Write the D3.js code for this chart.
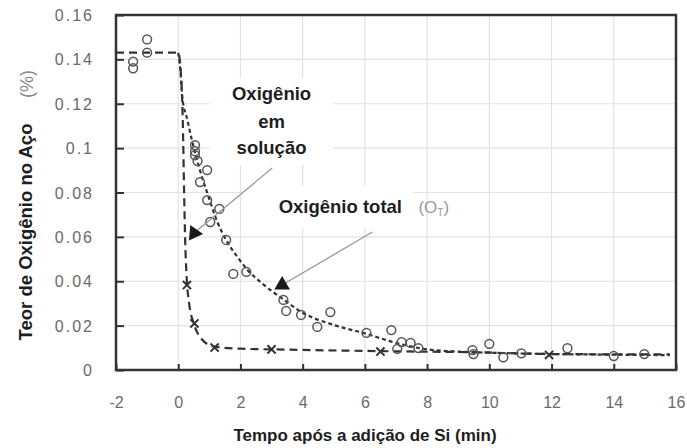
<!DOCTYPE html>
<html><head><meta charset="utf-8">
<script src="https://cdn.jsdelivr.net/npm/d3@7"></script>
<style>body{margin:0;background:#fff}svg{display:block}</style>
</head><body>
<script>
// ---------- data ----------
const xTicks = [-2, 0, 2, 4, 6, 8, 10, 12, 14, 16];
const yTicks = [0, 0.02, 0.04, 0.06, 0.08, 0.1, 0.12, 0.14, 0.16];
const yTickLabels = ["0", "0.02", "0.04", "0.06", "0.08", "0.1", "0.12", "0.14", "0.16"];

// open circles: dissolved oxygen measurements [min, %]
const circleX = [-1.45, -1.45, -1.0, -1.0, 0.54, 0.54, 0.54, 0.62, 0.93, 0.7, 0.93, 1.32, 1.03, 1.54,
  1.77, 2.19, 3.38, 3.47, 3.95, 4.47, 4.89, 6.05, 6.85, 7.18, 7.04, 7.47, 7.72, 9.46, 9.49, 10.0,
  10.45, 11.03, 12.51, 14.0, 14.98];
const circleY = [0.139, 0.136, 0.149, 0.143, 0.1013, 0.0986, 0.0968, 0.0942, 0.0901, 0.0847, 0.0766, 0.0726, 0.0667, 0.0586,
  0.0433, 0.0442, 0.0316, 0.0266, 0.0248, 0.0194, 0.0261, 0.0167, 0.018, 0.0126, 0.0095, 0.0122, 0.0099, 0.009, 0.0072, 0.0118,
  0.0057, 0.0075, 0.0098, 0.0063, 0.0072];

// crosses: total oxygen measurements
const crossX = [0.28, 0.52, 1.17, 3.0, 6.5, 11.92];
const crossY = [0.0383, 0.021, 0.0101, 0.0093, 0.0083, 0.0068];

// filled triangles
const triX = [0.51, 3.34];
const triY = [0.0617, 0.0383];

// fitted curve: oxygen in solution (short dashes)
const solX = [0, 0.07, 0.13, 0.29, 0.45, 0.7, 1.0, 1.25, 1.54, 1.9, 2.2, 2.7, 3.4, 4, 5, 6, 7, 8, 9, 10, 12, 14, 15.8];
const solY = [0.143, 0.135, 0.123, 0.113, 0.103, 0.09, 0.077, 0.067, 0.0586, 0.051, 0.0455, 0.039, 0.0316, 0.0258, 0.0203, 0.0165, 0.0122, 0.0093, 0.0083, 0.0078, 0.0072, 0.0069, 0.0067];

// fitted curve: total oxygen (long dashes)
const totX = [-2, 0, 0.08, 0.15, 0.19, 0.22, 0.27, 0.35, 0.5, 0.75, 1.17, 2, 3, 6.5, 9.5, 12, 15.8];
const totY = [0.143, 0.143, 0.135, 0.11, 0.08, 0.06, 0.042, 0.03, 0.021, 0.014, 0.0105, 0.0096, 0.0093, 0.0085, 0.008, 0.0072, 0.007];

// annotations (data coordinates)
const solLabelLines = ["Oxigênio", "em", "solução"];
const solLabelX = 3.0, solLabelY = [0.1248, 0.1118, 0.1005];
const solLeaderFrom = [3.02, 0.091];
const totLabel = "Oxigênio total";
const totLabelX = 5.21, totLabelY = 0.0735;
const totLeaderFrom = [6.24, 0.0622];
const solBox = [1.03, 4.99, 0.1316, 0.0924];
const totBox = [2.09, 7.56, 0.0829, 0.064];

const xTitle = "Tempo após a adição de Si (min)";
const yTitle = "Teor de Oxigênio no Aço";
const yUnit = "(%)";

// ---------- drawing ----------
const W = 687, H = 448;
const L = 116, R = 676, T = 15, B = 370;
const svg = d3.select("body").append("svg").attr("width", W).attr("height", H);
svg.append("rect").attr("width", W).attr("height", H).attr("fill", "#fff");

const x = d3.scaleLinear().domain([-2, 16]).range([L, R]);
const y = d3.scaleLinear().domain([0, 0.16]).range([B, T]);

// grid
const g = svg.append("g");
g.selectAll(".vg").data(xTicks.slice(1, -1)).join("line")
  .attr("x1", d => x(d)).attr("x2", d => x(d)).attr("y1", T).attr("y2", B)
  .attr("stroke", "#e2e2e2").attr("stroke-width", 1.2);
g.selectAll(".hg").data(yTicks.slice(1, -1)).join("line")
  .attr("y1", d => y(d)).attr("y2", d => y(d)).attr("x1", L).attr("x2", R)
  .attr("stroke", "#e2e2e2").attr("stroke-width", 1.2);

// white label boxes
[solBox, totBox].forEach(b => {
  svg.append("rect").attr("x", x(b[0])).attr("y", y(b[2]))
    .attr("width", x(b[1]) - x(b[0])).attr("height", y(b[3]) - y(b[2])).attr("fill", "#fff");
});

// axes ticks (inside)
const xAxis = d3.axisBottom(x).tickValues(xTicks).tickSize(-6).tickFormat(d => d);
const yAxis = d3.axisLeft(y).tickValues(yTicks).tickSize(-8).tickFormat((d, i) => yTickLabels[i]);
const gx = svg.append("g").attr("transform", `translate(0,${B})`).call(xAxis);
const gy = svg.append("g").attr("transform", `translate(${L},0)`).call(yAxis);
[gx, gy].forEach(a => {
  a.select(".domain").remove();
  a.selectAll(".tick line").attr("stroke", "#333").attr("stroke-width", 2);
  a.selectAll(".tick text").attr("fill", "#6a6a6a").attr("font-family", "Liberation Sans, Arial, sans-serif")
    .attr("font-size", 16);
});
gx.selectAll(".tick text").attr("dy", 0).attr("y", 38);
gy.selectAll(".tick text").attr("x", -22).attr("dy", "0.35em").attr("letter-spacing", 2);

// curves
const line = d3.line().x(d => x(d[0])).y(d => y(d[1])).curve(d3.curveMonotoneX);
const totData = totX.map((v, i) => [v, totY[i]]);
const solData = solX.map((v, i) => [v, solY[i]]);
svg.append("path").attr("d", line(totData)).attr("fill", "none")
  .attr("stroke", "#333").attr("stroke-width", 2.2).attr("stroke-dasharray", "8,5");
svg.append("path").attr("d", line(solData)).attr("fill", "none")
  .attr("stroke", "#333").attr("stroke-width", 2.2).attr("stroke-dasharray", "4,3");

// circles
svg.selectAll(".c").data(circleX.map((v, i) => [v, circleY[i]])).join("circle")
  .attr("cx", d => x(d[0])).attr("cy", d => y(d[1])).attr("r", 4.4)
  .attr("fill", "none").attr("stroke", "#555").attr("stroke-width", 1.5);

// crosses
const cross = d3.symbol().type(d3.symbolX).size(45);
svg.selectAll(".x").data(crossX.map((v, i) => [v, crossY[i]])).join("path")
  .attr("d", cross).attr("transform", d => `translate(${x(d[0])},${y(d[1])})`)
  .attr("fill", "none").attr("stroke", "#333").attr("stroke-width", 2);

// leader lines
const tris = triX.map((v, i) => [v, triY[i]]);
[[solLeaderFrom, tris[0]], [totLeaderFrom, tris[1]]].forEach(([a, b]) => {
  svg.append("line").attr("x1", x(a[0])).attr("y1", y(a[1])).attr("x2", x(b[0])).attr("y2", y(b[1]))
    .attr("stroke", "#999").attr("stroke-width", 1.3);
});

// triangles
const tri = d3.symbol().type(d3.symbolTriangle).size(105);
svg.selectAll(".t").data(tris).join("path")
  .attr("d", tri).attr("transform", (d, i) => `translate(${x(d[0])},${y(d[1])}) rotate(${i === 0 ? -25 : 0})`)
  .attr("fill", "#1a1a1a");

// labels
const font = "Liberation Sans, Arial, sans-serif";
solLabelLines.forEach((t, i) => {
  svg.append("text").attr("x", x(solLabelX)).attr("y", y(solLabelY[i])).attr("text-anchor", "middle")
    .attr("dominant-baseline", "central").attr("font-family", font).attr("font-weight", "bold")
    .attr("font-size", 18.5).attr("fill", "#1e1e1e").text(t);
});
svg.append("text").attr("x", x(totLabelX)).attr("y", y(totLabelY)).attr("text-anchor", "middle")
  .attr("dominant-baseline", "central").attr("font-family", font).attr("font-weight", "bold")
  .attr("font-size", 18.5).attr("fill", "#1e1e1e").text(totLabel);
const ot = svg.append("text").attr("x", x(totBox[1]) + 5).attr("y", y(totLabelY))
  .attr("dominant-baseline", "central").attr("font-family", font).attr("font-size", 17).attr("fill", "#999");
ot.append("tspan").text("(O");
ot.append("tspan").attr("font-size", 10).attr("dy", 5).text("T");
ot.append("tspan").attr("dy", -5).text(")");

// frame
svg.append("rect").attr("x", L).attr("y", T).attr("width", R - L).attr("height", B - T)
  .attr("fill", "none").attr("stroke", "#333").attr("stroke-width", 2.5);

// axis titles
svg.append("text").attr("x", (232 + 498) / 2).attr("y", 435).attr("text-anchor", "middle")
  .attr("dominant-baseline", "central").attr("font-family", font).attr("font-weight", "bold")
  .attr("font-size", 17).attr("fill", "#1e1e1e").text(xTitle);
svg.append("text").attr("transform", "translate(25,232) rotate(-90)").attr("text-anchor", "middle")
  .attr("dominant-baseline", "central").attr("font-family", font).attr("font-weight", "bold")
  .attr("font-size", 18.5).attr("fill", "#1e1e1e").text(yTitle);
svg.append("text").attr("transform", "translate(27,84) rotate(-90)").attr("text-anchor", "middle")
  .attr("dominant-baseline", "central").attr("font-family", font)
  .attr("font-size", 18).attr("fill", "#888").text(yUnit);
</script>
</body></html>
